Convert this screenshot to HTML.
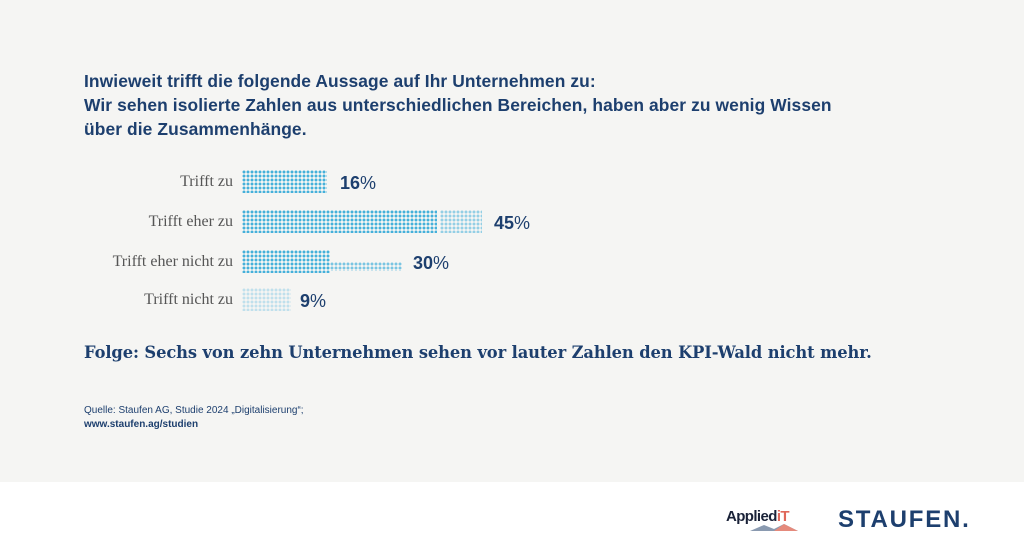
<!DOCTYPE html>
<html><head><meta charset="utf-8"><style>
body{margin:0;width:1024px;height:556px;position:relative;background:#fff;font-family:"Liberation Sans",sans-serif;overflow:hidden}
.top{position:absolute;left:0;top:0;width:1024px;height:482px;background:#f5f5f3}
.t{position:absolute;left:84px;color:#1d3f6e;font-weight:bold;font-size:17.4px;white-space:nowrap;letter-spacing:0.1px}
.lab{position:absolute;right:791px;font-family:"Liberation Serif",serif;font-size:16px;color:#555;white-space:nowrap}
.bar{position:absolute;left:242px;height:23px;background-image:radial-gradient(circle,#45b0da 1.3px,transparent 1.6px);background-size:4px 4px}
.pct{position:absolute;font-weight:bold;font-size:18px;color:#1d3f6e}
.pct span{font-weight:normal}
</style></head><body>
<div class="top"></div>
<div class="t" style="top:71px">Inwieweit trifft die folgende Aussage auf Ihr Unternehmen zu:</div>
<div class="t" style="top:95px">Wir sehen isolierte Zahlen aus unterschiedlichen Bereichen, haben aber zu wenig Wissen</div>
<div class="t" style="top:119px">über die Zusammenhänge.</div>

<div class="lab" style="top:173px">Trifft zu</div>
<div class="bar" style="top:170px;width:85px"></div>
<div class="pct" style="left:340px;top:173px">16<span>%</span></div>

<div class="lab" style="top:213px">Trifft eher zu</div>
<div class="bar" style="top:210px;width:195px"></div>
<div class="bar" style="top:210px;left:440px;width:42px;opacity:.55"></div>
<div class="pct" style="left:494px;top:213px">45<span>%</span></div>

<div class="lab" style="top:253px">Trifft eher nicht zu</div>
<div class="bar" style="top:250px;width:88px"></div>
<div class="bar" style="top:262px;left:330px;width:72px;height:9px;opacity:.7"></div>
<div class="pct" style="left:413px;top:253px">30<span>%</span></div>

<div class="lab" style="top:291px">Trifft nicht zu</div>
<div class="bar" style="top:288px;width:49px;opacity:.3"></div>
<div class="pct" style="left:300px;top:291px">9<span>%</span></div>

<div class="t" style="top:343px;font-family:'DejaVu Serif','Liberation Serif',serif;font-size:16.3px;letter-spacing:-0.1px">Folge: Sechs von zehn Unternehmen sehen vor lauter Zahlen den KPI-Wald nicht mehr.</div>

<div style="position:absolute;left:84px;top:405px;font-size:10px;color:#1d3f6e">Quelle: Staufen AG, Studie 2024 „Digitalisierung“;</div>
<div style="position:absolute;left:84px;top:419px;font-size:10px;color:#1d3f6e;font-weight:bold">www.staufen.ag/studien</div>

<div style="position:absolute;left:726px;top:508px;font-size:15px;font-weight:bold;color:#1a2238;letter-spacing:-0.6px">Applied<span style="color:#e0685a">iT</span></div>
<svg style="position:absolute;left:750px;top:524px" width="48" height="8"><path d="M0 7 L14 1 L24 5 L34 0 L48 7Z" fill="#8a9ab0"/><path d="M24 7 L34 0 L48 7Z" fill="#e58a7c"/></svg>
<div style="position:absolute;left:838px;top:506px;font-size:24px;font-weight:bold;color:#1d3f6e;letter-spacing:1.8px">STAUFEN.</div>
</body></html>
